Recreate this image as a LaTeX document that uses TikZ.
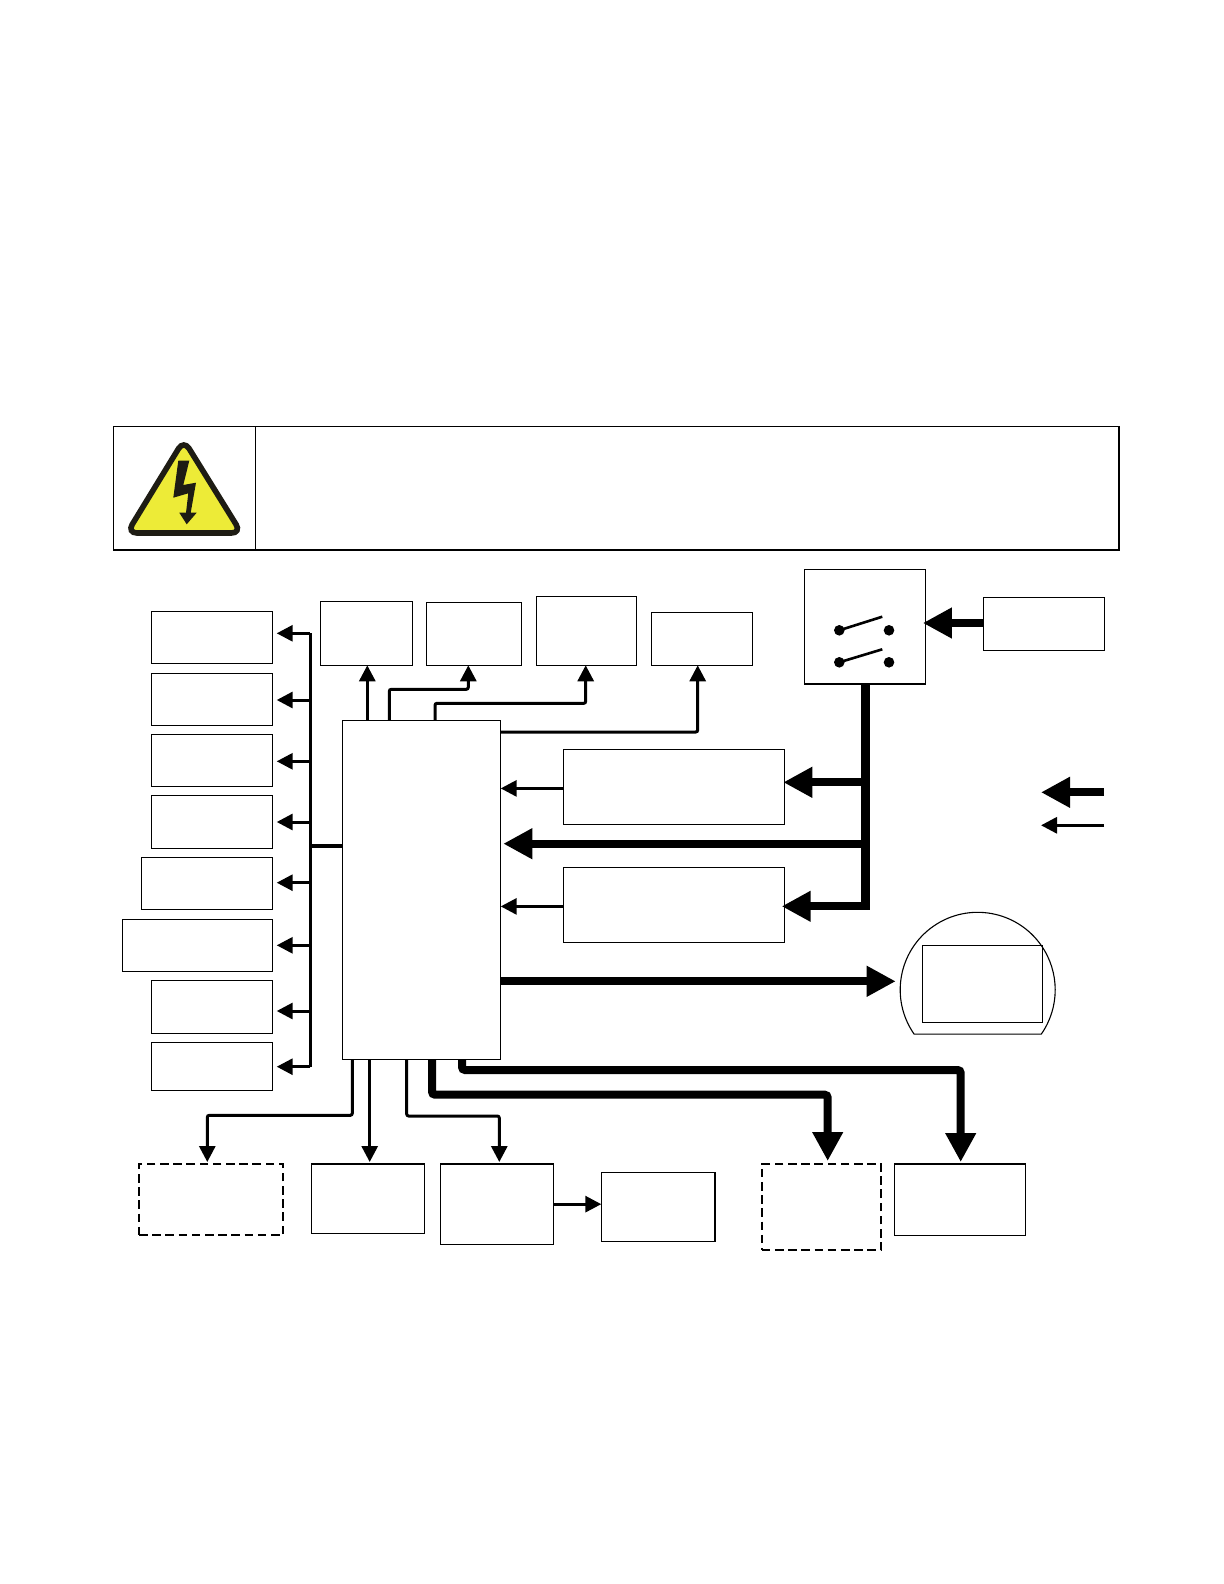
\documentclass[tikz,border=0pt]{standalone}
\usepackage{xcolor}
\usetikzlibrary{arrows.meta, positioning}
\definecolor{warncolor}{RGB}{237,235,55}
\definecolor{warnedge}{RGB}{30,28,20}

\begin{document}
\begin{tikzpicture}[
    x=1pt, y=-1pt,
    box/.style={rectangle, draw, line width=0.55pt, inner sep=0pt, outer sep=0pt, minimum width=60.6pt, minimum height=26pt},
    dashbox/.style={box, dashed, line width=0.9pt, dash pattern=on 4.3pt off 2.3pt},
    dot/.style={circle, fill, inner sep=0pt, minimum size=5.3pt},
    lever/.style={line width=1.3pt},
    bus/.style={line width=1.6pt, rounded corners=1pt},
    link/.style={line width=2pt},
    arrow/.style={line width=1.5pt, rounded corners=1pt, -{Triangle[length=8pt, width=8pt]}},
    bigarrow/.style={line width=4pt, rounded corners=1.5pt, -{Triangle[length=14.5pt, width=14.5pt]}},
    power/.style={line width=4.5pt}
]
\useasboundingbox (0,0) rectangle (612,792);

% warning panel
\node (warning) [box, minimum width=502.85pt, minimum height=61.7pt, anchor=north west] at (56.65,213.3) {};
\coordinate (panel) at (127.65,213.3);
\draw [line width=0.55pt] (panel) -- (panel |- warning.south);
\draw [draw=warnedge, fill=warncolor, line width=2.8pt, rounded corners=5pt] (91.9,220) -- (120.7,266.5) -- (63.5,266.5) -- cycle;
\fill [warnedge] (89.15,230.35) -- (94.65,230.35) -- (91.65,242.5) -- (98,241.35) -- (95.35,256.35) -- (98.35,256.35) -- (93.35,262.15) -- (89.65,256.35) -- (93,256.35) -- (94.15,246.65) -- (86.65,248.85) -- cycle;

% left column
\node (left1) [box, anchor=north east] at (136.35,305.65) {};
\node (left2) [box, below=5pt of left1] {};
\node (left3) [box, below=4.5pt of left2] {};
\node (left4) [box, minimum height=26.5pt, below=4.5pt of left3] {};
\node (left5) [box, minimum width=65.65pt, below=4.5pt of left4.south east, anchor=north east] {};
\node (left6) [box, minimum width=75pt, below=5pt of left5.south east, anchor=north east] {};
\node (left7) [box, minimum height=26.3pt, below=4.7pt of left6.south east, anchor=north east] {};
\node (left8) [box, minimum height=24pt, below=4.5pt of left7] {};

% processor and top row
\node (main) [box, minimum width=79.2pt, minimum height=169.5pt, anchor=north west] at (171.15,360.15) {};
\node (top1) [box, minimum width=46.2pt, minimum height=32pt, anchor=south west] at (160.15,332.65) {};
\node (top2) [box, minimum width=47.5pt, minimum height=31.5pt, right=7pt of top1.south east, anchor=south west] {};
\node (top3) [box, minimum width=50.2pt, minimum height=34.5pt, right=7.3pt of top2.south east, anchor=south west] {};
\node (top4) [box, minimum width=50.7pt, minimum height=26.5pt, right=7.3pt of top3.south east, anchor=south west] {};

% supplies and switch
\node (supply1) [box, minimum width=110.7pt, minimum height=37.5pt, anchor=north west] at (281.65,374.65) {};
\node (supply2) [box, minimum width=110.7pt, minimum height=37.5pt, below=21.5pt of supply1] {};
\node (switch) [box, minimum height=57.35pt, anchor=north west] at (402.15,284.65) {};
\node (mains) [box, minimum height=26.3pt, anchor=north west] at (491.65,298.85) {};
\node (sw1) [dot] at (419.65,315.15) {};
\node (sw2) [dot] at (444.5,315.15) {};
\node (sw3) [dot] at (419.65,331.15) {};
\node (sw4) [dot] at (444.5,331.15) {};
\coordinate (lever1) at (441.15,308.35);
\coordinate (lever2) at (441.15,324.65);
\draw [lever] (sw1.center) -- (lever1);
\draw [lever] (sw3.center) -- (lever2);

% display
\coordinate (domec) at (488.85,494.9);
\draw [line width=0.55pt] (domec) ++(214.9:38.75pt) arc [start angle=214.9, end angle=-34.9, radius=38.75pt] -- cycle;
\node (screen) [box, minimum width=60pt, minimum height=38.5pt, anchor=north west] at (461.15,472.65) {};

% bottom row
\node (bot1) [dashbox, minimum width=72.15pt, minimum height=35.5pt, anchor=north west] at (69.5,582) {};
\node (bot2) [box, minimum width=56.7pt, minimum height=34.65pt, anchor=north west] at (155.65,582) {};
\node (bot3) [box, minimum width=56.5pt, minimum height=40.15pt, anchor=north west] at (220.15,582) {};
\node (bot4) [box, minimum width=56.85pt, minimum height=34.5pt, anchor=north west] at (300.65,586.15) {};
\node (bot5) [dashbox, minimum width=59.8pt, minimum height=43pt, anchor=north west] at (380.85,582) {};
\node (bot6) [box, minimum width=65.7pt, minimum height=35.65pt, anchor=north west] at (447.15,582) {};

% left bus
\coordinate (bus1) at (155.15,316.65);
\coordinate (bus2) at (155.15,350);
\coordinate (bus3) at (155.15,380.65);
\coordinate (bus4) at (155.15,411);
\coordinate (bus5) at (155.15,441.35);
\coordinate (bus6) at (155.15,472.65);
\coordinate (bus7) at (155.15,505.5);
\coordinate (bus8) at (155.15,533.35);
\coordinate (stub) at (155.15,423);
\draw [bus] (bus1) -- (bus8);
\draw [link] (main.west |- stub) -- (stub);
\foreach \n in {1,...,8}
    \draw [arrow, shorten >=2pt] (bus\n) -- (left\n.east |- bus\n);

% top arrows
\coordinate (out1) at (183.65,360.15);
\coordinate (out2) at (194.65,360.15);
\coordinate (out3) at (217.5,360.15);
\coordinate (elbow2) at (234.15,344.65);
\coordinate (elbow3) at (292.85,351.65);
\coordinate (elbow4) at (348.85,366);
\draw [arrow] (out1) -- (top1.south -| out1);
\draw [arrow] (out2) |- (elbow2) -- (top2.south -| elbow2);
\draw [arrow] (out3) |- (elbow3) -- (top3.south -| elbow3);
\draw [arrow] (main.east |- elbow4) -- (elbow4) -- (top4.south -| elbow4);

% power
\coordinate (feed) at (491.65,311.5);
\coordinate (rail1) at (432.85,391.15);
\coordinate (rail2) at (432.85,421.85);
\coordinate (rail3) at (432.85,453.15);
\coordinate (railend) at (432.85,455.15);
\coordinate (in1) at (250.35,394.2);
\coordinate (in2) at (250.35,453.2);
\coordinate (tip2) at (251.65,421.85);
\draw [bigarrow, shorten >=-1.3pt] (feed) -- (switch.east |- feed);
\draw [power] (switch.south -| rail1) -- (railend);
\draw [bigarrow, shorten >=-0.7pt] (rail1) -- (supply1.east |- rail1);
\draw [bigarrow] (rail2) -- (tip2);
\draw [bigarrow, shorten >=-1.5pt] (rail3) -- (supply2.east |- rail3);
\draw [arrow] (supply1.west |- in1) -- (in1);
\draw [arrow] (supply2.west |- in2) -- (in2);

% display link
\coordinate (tip3) at (447.85,490.65);
\draw [bigarrow] (main.east |- tip3) -- (tip3);

% bottom arrows
\coordinate (out4) at (176.15,529.65);
\coordinate (out5) at (184.85,529.65);
\coordinate (out6) at (203.35,529.65);
\coordinate (out7) at (216,529.65);
\coordinate (out8) at (231,529.65);
\coordinate (elbow5) at (103.65,557.65);
\coordinate (elbow6) at (249.65,558);
\coordinate (elbow7) at (413.85,547.35);
\coordinate (elbow8) at (480.35,535);
\draw [arrow, shorten >=1pt] (out4) |- (elbow5) -- (bot1.north -| elbow5);
\draw [arrow, shorten >=1pt] (out5) -- (bot2.north -| out5);
\draw [arrow, shorten >=1pt] (out6) |- (elbow6) -- (bot3.north -| elbow6);
\draw [arrow] (bot3.east) -- (bot4.west |- bot3.east);
\draw [bigarrow, shorten >=1.5pt] (out7) |- (elbow7) -- (bot5.north -| elbow7);
\draw [bigarrow, shorten >=1pt] (out8) |- (elbow8) -- (bot6.north -| elbow8);

% legend
\coordinate (key1) at (552,396.15);
\coordinate (key1tip) at (520.5,396.15);
\coordinate (key2) at (552,412.65);
\coordinate (key2tip) at (520.5,412.65);
\draw [bigarrow] (key1) -- (key1tip);
\draw [arrow] (key2) -- (key2tip);
\end{tikzpicture}
\end{document}
